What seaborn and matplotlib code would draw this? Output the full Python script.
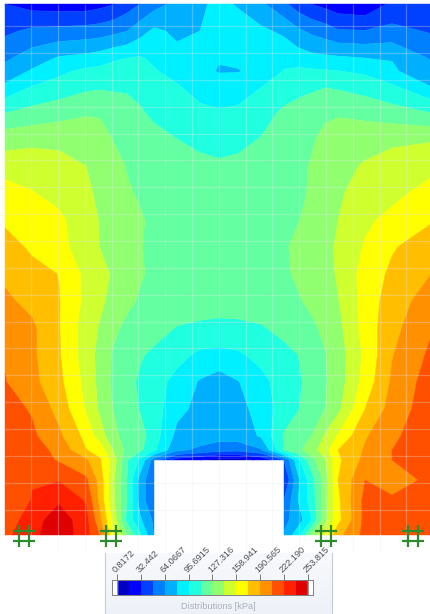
import numpy as np
import seaborn as sns
import matplotlib
matplotlib.use("Agg")
import matplotlib.pyplot as plt
from matplotlib.colors import ListedColormap
from matplotlib.path import Path

sns.set_theme(style="white")
plt.rcParams['font.family'] = ['Liberation Sans', 'DejaVu Sans']

# Colour-scale ticks (kPa) and the 16 bands of the legend
tick_labels = ["0.8172", "32.442", "64.0667", "95.6915", "127.316",
               "158.941", "190.565", "222.190", "253.815"]
band_colors = ["#0000c4", "#0000ff", "#0040ff", "#0080ff", "#00b0ff", "#00f0ff",
               "#20ffe0", "#64ffa0", "#90ff70", "#d0ff30", "#ffff00", "#ffbf00",
               "#ff9000", "#ff5000", "#ff2000", "#df0000"]

# Sampling positions of the field (image-aligned length units)
x_nodes = [5, 32, 59, 86, 100, 113, 127, 140, 154, 177, 200, 219, 238, 261,
           284, 298, 311, 325, 338, 365, 392, 431]
y_nodes = [4, 31, 58, 71, 85, 112, 139, 166, 193, 220, 247, 274, 301, 328, 355,
           382, 409, 436, 450, 460, 480, 500, 520, 535]

# Field values, row by row, in legend-band steps
n = np.nan
row_004 = [2.0, 1.6, 1.5, 1.5, 1.7, 1.95, 2.5, 3.0, 3.6, 4.3, 4.8, 5.3, 4.9, 4.2, 3.2, 2.5, 2.0, 1.7, 1.4, 1.2, 2.2, 2.7]
row_031 = [2.8, 3.2, 3.3, 3.4, 3.5, 3.7, 3.98, 4.6, 5.2, 4.8, 5.0, 5.5, 5.5, 5.2, 4.8, 4.2, 3.8, 3.5, 3.1, 3.05, 3.3, 2.9]
row_058 = [3.8, 4.5, 5.1, 5.3, 5.5, 5.8, 6.0, 6.1, 5.8, 5.3, 5.1, 5.05, 5.2, 5.4, 5.7, 5.5, 5.3, 5.2, 5.15, 5.0, 4.95, 3.9]
row_071 = [4.4, 5.1, 5.8, 6.2, 6.3, 6.5, 6.6, 6.4, 6.1, 5.6, 5.2, 4.95, 4.95, 5.3, 6.05, 6.2, 6.15, 6.1, 6.02, 5.8, 5.15, 4.3]
row_085 = [5.1, 5.95, 6.3, 6.7, 6.8, 6.8, 6.8, 6.7, 6.4, 6.05, 5.6, 5.3, 5.4, 5.95, 6.3, 6.5, 6.7, 6.9, 6.8, 6.5, 6.05, 4.9]
row_112 = [6.95, 7.3, 7.6, 7.9, 7.9, 7.6, 7.4, 7.1, 6.8, 6.5, 6.2, 6.1, 6.2, 6.5, 7.2, 7.5, 7.7, 7.85, 7.9, 7.7, 7.4, 6.95]
row_139 = [8.6, 8.7, 8.7, 8.5, 8.3, 7.98, 7.7, 7.5, 7.3, 7.0, 6.7, 6.5, 6.7, 7.05, 7.4, 7.7, 7.9, 8.2, 8.4, 8.6, 8.8, 8.9]
row_166 = [9.5, 9.6, 9.4, 9.0, 8.7, 8.3, 7.95, 7.8, 7.7, 7.5, 7.3, 7.2, 7.25, 7.5, 7.7, 7.85, 8.05, 8.4, 8.7, 9.1, 9.4, 9.7]
row_193 = [10.5, 10.05, 9.7, 9.2, 8.8, 8.5, 8.1, 7.9, 7.8, 7.6, 7.5, 7.5, 7.5, 7.6, 7.7, 7.9, 8.05, 8.4, 8.9, 9.3, 9.7, 10.4]
row_220 = [10.8, 10.6, 10.2, 9.4, 8.95, 8.7, 8.4, 8.1, 7.8, 7.6, 7.5, 7.5, 7.5, 7.6, 7.7, 7.95, 8.3, 8.6, 9.0, 9.8, 10.3, 10.9]
row_247 = [11.5, 10.8, 10.3, 9.5, 8.98, 8.7, 8.3, 8.05, 7.8, 7.6, 7.5, 7.5, 7.5, 7.6, 7.85, 8.3, 8.5, 8.8, 9.1, 10.1, 10.9, 11.6]
row_274 = [11.8, 11.4, 10.97, 9.75, 9.3, 8.9, 8.4, 8.1, 7.8, 7.6, 7.5, 7.5, 7.5, 7.6, 7.85, 8.15, 8.4, 8.7, 9.1, 10.4, 11.2, 12.0]
row_301 = [12.2, 11.7, 11.05, 9.75, 9.2, 8.7, 8.2, 7.9, 7.7, 7.6, 7.5, 7.5, 7.5, 7.6, 7.65, 7.9, 8.2, 8.6, 8.95, 10.4, 11.5, 12.5]
row_328 = [12.8, 12.2, 11.05, 9.5, 8.9, 8.2, 7.8, 7.6, 7.4, 6.95, 6.8, 6.7, 6.75, 6.9, 7.3, 7.6, 7.8, 8.2, 8.7, 10.4, 11.7, 12.9]
row_355 = [12.9, 12.2, 11.1, 9.5, 8.7, 7.9, 7.5, 7.1, 6.8, 6.3, 5.8, 5.7, 5.85, 6.3, 6.7, 7.0, 7.45, 7.95, 8.5, 10.2, 11.95, 13.2]
row_382 = [13.05, 12.3, 11.25, 9.7, 8.7, 7.8, 7.3, 6.85, 6.4, 5.7, 4.9, 4.5, 4.95, 5.7, 6.45, 6.85, 7.3, 7.9, 8.5, 10.4, 12.15, 13.5]
row_409 = [13.4, 12.9, 11.65, 9.9, 8.8, 8.0, 7.4, 6.95, 6.45, 5.3, 4.7, 4.5, 4.65, 5.4, 6.5, 6.95, 7.45, 8.0, 8.75, 11.0, 12.4, 13.6]
row_436 = [13.8, 13.2, 12.2, 10.7, 9.5, 8.3, 7.6, 7.4, 6.5, 4.7, 4.5, 4.4, 4.5, 5.1, 7.1, 7.5, 8.0, 9.1, 10.1, 11.9, 12.8, 13.7]
row_450 = [13.9, 13.4, 12.75, 11.05, 10.6, 9.0, 7.7, 7.2, 6.2, 4.2, 3.8, 3.4, 3.3, 3.9, 7.05, 7.8, 8.5, 9.6, 11.0, 12.1, 13.0, 13.8]
row_460 = [14.0, 13.6, 12.9, 12.15, 11.1, 9.6, 7.1, 5.8, 3.5, 1.6, 1.0, 0.6, 0.6, 1.2, 3.0, 5.7, 7.6, 8.9, 10.8, 12.3, 13.0, 13.8]
row_480 = [13.5, 13.95, 13.95, 13.2, 11.6, 9.2, 7.0, 4.6, 3.0, n, n, n, n, n, 2.0, 4.75, 6.5, 8.4, 11.0, 13.0, 12.4, 13.3]
row_500 = [13.2, 14.05, 14.85, 13.9, 11.7, 9.2, 7.0, 4.6, 3.0, n, n, n, n, n, 3.0, 5.0, 6.4, 8.5, 10.8, 13.3, 13.2, 13.5]
row_520 = [13.4, 14.55, 15.6, 14.4, 12.2, 9.8, 6.7, 5.15, 3.8, n, n, n, n, n, 3.7, 4.5, 5.9, 8.7, 10.7, 13.3, 13.3, 13.4]
row_535 = [13.75, 14.7, 15.7, 14.4, 12.95, 10.25, 8.0, 6.2, 4.0, n, n, n, n, n, 4.1, 5.6, 8.2, 10.0, 11.7, 13.3, 13.3, 13.4]

# Support symbols along the base
support_x = [24, 111, 326, 413]
support_y = [536, 536, 536, 536]

rows = np.array([row_004, row_031, row_058, row_071, row_085, row_112, row_139, row_166,
                 row_193, row_220, row_247, row_274, row_301, row_328, row_355, row_382,
                 row_409, row_436, row_450, row_460, row_480, row_500, row_520, row_535])
tick_values = np.array([float(t) for t in tick_labels])
levels = np.interp(np.arange(17) / 2, np.arange(9), tick_values)
pressure = np.ma.masked_invalid(levels[0] + (levels[1] - levels[0]) * rows)

W, H = 431, 614
fig = plt.figure(figsize=(W / 100, H / 100), dpi=100, facecolor="white")
ax = fig.add_axes([0, 0, 1, 1])
cmap = ListedColormap(sns.color_palette(band_colors).as_hex())

cs = ax.contourf(x_nodes, y_nodes, pressure, levels=levels, colors=band_colors,
                 antialiased=True, corner_mask=False)
cs.set_edgecolor("face")
cs.set_linewidth(0.3)

# Faint mesh
ax.vlines(31.2 + 26.8 * np.arange(15), 4, 552, color="#e6e8ec", alpha=0.3, lw=0.9, zorder=3)
ax.hlines(26.2 + 26.85 * np.arange(19), 5, 431, color="#e6e8ec", alpha=0.3, lw=0.9, zorder=3)

# Supports
hash_path = Path([(-1, -.45), (1, -.45), (-1, .45), (1, .45),
                  (-.45, -1), (-.45, 1), (.45, -1), (.45, 1)],
                 [Path.MOVETO, Path.LINETO] * 4)
ax.plot(support_x, support_y, ls="none", marker=hash_path, ms=15.5, mew=1.6,
        mfc="none", mec="#2e8b2e", zorder=4, clip_on=False)

ax.set_xlim(0, W)
ax.set_ylim(H, 0)
ax.axis("off")

# Legend panel
panel = fig.add_axes([105 / W, 0, 227 / W, 61 / H], facecolor="#f3f6fb")
panel.imshow(np.linspace(1, 0, 50)[:, None], cmap=ListedColormap(sns.blend_palette(["#eef2f8", "#f8f9fc"], 32)),
             aspect="auto", extent=(0, 1, 0, 1))
panel.set_xticks([]); panel.set_yticks([])
for side in ("top", "bottom"):
    panel.spines[side].set_visible(False)
for side in ("left", "right"):
    panel.spines[side].set_color("#c4ccd8")
    panel.spines[side].set_linewidth(0.8)

# Colour strip drawn with seaborn's heatmap
bar = fig.add_axes([117 / W, 1 - 595 / H, 191 / W, 15 / H])
mids = (levels[:-1] + levels[1:]) / 2
sns.heatmap(np.array([mids]), ax=bar, cmap=cmap, vmin=levels[0], vmax=levels[-1],
            cbar=False, xticklabels=False, yticklabels=False)

bar.set_xticks(np.arange(0, 17, 2))
bar.set_xticklabels(tick_labels, rotation=45, ha="left", va="bottom",
                    rotation_mode="anchor", fontsize=6.6, color="#4a4f57")
bar.xaxis.tick_top()
bar.tick_params(axis="x", length=4, width=0.6, color="#666666", pad=0, top=True, bottom=False)

# End caps of the colour strip
caps = fig.add_axes([112 / W, 1 - 595 / H, 201 / W, 15 / H], facecolor="none")
caps.set_xlim(112, 313)
caps.set_ylim(0, 1)
caps.set_xticks([]); caps.set_yticks([])
for side in caps.spines.values():
    side.set_color("#808080")
    side.set_linewidth(0.7)
caps.axvspan(112, 117, color="white", zorder=1)
caps.axvspan(308, 313, color="white", zorder=1)
caps.axvline(117, color="#808080", lw=0.6)
caps.axvline(308, color="#808080", lw=0.6)

panel.text(0.5, 0.13, "Distributions [kPa]", transform=panel.transAxes, ha="center",
           va="center", fontsize=6.6, color="#a9b0ba")

fig.savefig("out.png", dpi=100)
